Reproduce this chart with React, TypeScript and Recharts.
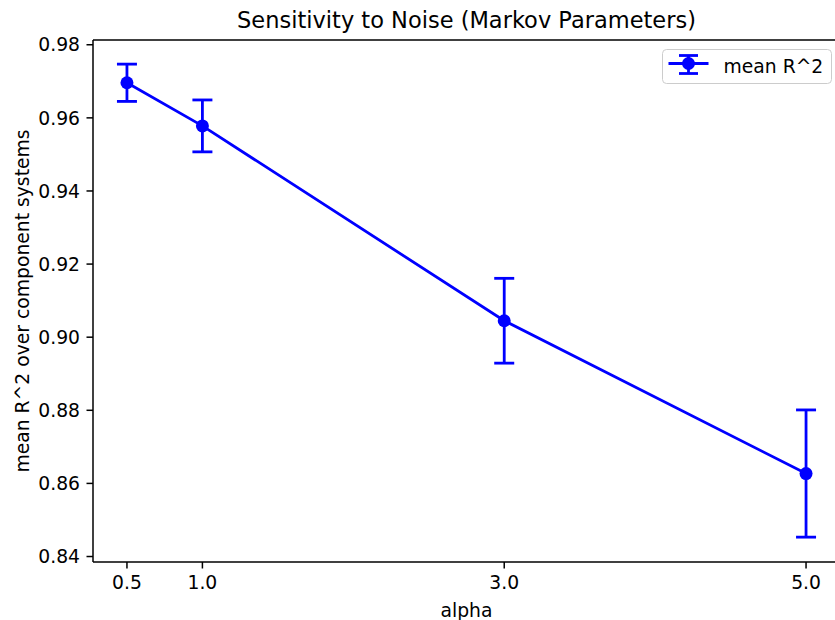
import React from 'react';
import {
  ComposedChart,
  Line,
  XAxis,
  YAxis,
  ErrorBar,
  ReferenceLine,
} from 'recharts';

const alphas = [0.5, 1.0, 3.0, 5.0];
const meanR2 = [0.9696, 0.9578, 0.9045, 0.8627];
const errR2 = [0.0051, 0.0071, 0.0116, 0.0174];
const xTicks = [0.5, 1.0, 3.0, 5.0];
const yTicks = [0.84, 0.86, 0.88, 0.9, 0.92, 0.94, 0.96, 0.98];
const Y_DOMAIN: [number, number] = [0.8385, 0.9813];
const X_DOMAIN: [number, number] = [0.275, 5.225];

const data = alphas.map((a, i) => ({ alpha: a, mean: meanR2[i], err: errR2[i] }));

const FONT = '"DejaVu Sans", sans-serif';
const BLUE = '#0000ff';
const FS = 18.75;
const LW = 2.8;
const SPINE = 1.5;

const LegendBox = () => (
  <svg
    width={170}
    height={35}
    style={{ position: 'absolute', left: 661.5, top: 48.5 }}
  >
    <rect
      x={0.5}
      y={0.5}
      width={169}
      height={34}
      rx={4}
      ry={4}
      fill="rgba(255,255,255,0.8)"
      stroke="#cccccc"
      strokeWidth={1}
    />
    <line x1={6.5} x2={46.5} y1={14.5} y2={14.5} stroke={BLUE} strokeWidth={LW} />
    <line x1={26.5} x2={26.5} y1={6.5} y2={24.5} stroke={BLUE} strokeWidth={LW} />
    <line x1={17} x2={36} y1={6.5} y2={6.5} stroke={BLUE} strokeWidth={LW} />
    <line x1={17} x2={36} y1={24.5} y2={24.5} stroke={BLUE} strokeWidth={LW} />
    <circle cx={26.5} cy={14.5} r={6.5} fill={BLUE} />
    <text x={61.5} y={23.5} fontFamily={FONT} fontSize={FS} fill="#000">
      mean R^2
    </text>
  </svg>
);

export default function App() {
  return (
    <div
      style={{
        position: 'fixed',
        left: 0,
        top: 0,
        width: 835,
        height: 620,
        overflow: 'hidden',
        background: '#fff',
      }}
    >
      <svg width={835} height={40} style={{ position: 'absolute', left: 0, top: 0 }}>
        <text x={466.5} y={28} textAnchor="middle" fontFamily={FONT} fontSize={22.5} fill="#000">
          Sensitivity to Noise (Markov Parameters)
        </text>
      </svg>
      <ComposedChart
        width={845}
        height={620}
        data={data}
        margin={{ top: 40, right: 5, bottom: 0, left: 0 }}
        style={{ position: 'absolute', left: 0, top: 0 }}
      >
        <XAxis
          type="number"
          dataKey="alpha"
          domain={X_DOMAIN}
          allowDataOverflow
          ticks={xTicks}
          tickFormatter={(v: number) => v.toFixed(1)}
          height={58}
          tickSize={6.5}
          tickMargin={7}
          axisLine={{ stroke: '#000', strokeWidth: SPINE }}
          tickLine={{ stroke: '#000', strokeWidth: SPINE }}
          tick={{ fill: '#000', fontSize: FS, fontFamily: FONT }}
          label={{
            content: () => (
              <text
                x={466.5}
                y={617}
                textAnchor="middle"
                fontFamily={FONT}
                fontSize={FS}
                fill="#000"
              >
                alpha
              </text>
            ),
          }}
        />
        <YAxis
          type="number"
          domain={Y_DOMAIN}
          allowDataOverflow
          ticks={yTicks}
          tickFormatter={(v: number) => v.toFixed(2)}
          width={93}
          tickSize={6.5}
          tickMargin={6.5}
          axisLine={{ stroke: '#000', strokeWidth: SPINE }}
          tickLine={{ stroke: '#000', strokeWidth: SPINE }}
          tick={{ fill: '#000', fontSize: FS, fontFamily: FONT }}
          label={{
            content: () => (
              <text
                x={22}
                y={301}
                transform="rotate(-90 22 301)"
                textAnchor="middle"
                dominantBaseline="central"
                fontFamily={FONT}
                fontSize={FS}
                fill="#000"
              >
                mean R^2 over component systems
              </text>
            ),
          }}
        />
        <ReferenceLine y={Y_DOMAIN[1]} stroke="#000" strokeWidth={SPINE} ifOverflow="visible" />
        <ReferenceLine x={X_DOMAIN[1]} stroke="#000" strokeWidth={SPINE} ifOverflow="visible" />
        <Line
          type="linear"
          dataKey="mean"
          name="mean R^2"
          stroke={BLUE}
          strokeWidth={LW}
          dot={{ r: 6.5, fill: BLUE, stroke: BLUE, strokeWidth: 0 }}
          activeDot={false}
          isAnimationActive={false}
        >
          <ErrorBar
            dataKey="err"
            direction="y"
            width={10}
            stroke={BLUE}
            strokeWidth={LW}
            isAnimationActive={false}
          />
        </Line>
      </ComposedChart>
      <LegendBox />
    </div>
  );
}
